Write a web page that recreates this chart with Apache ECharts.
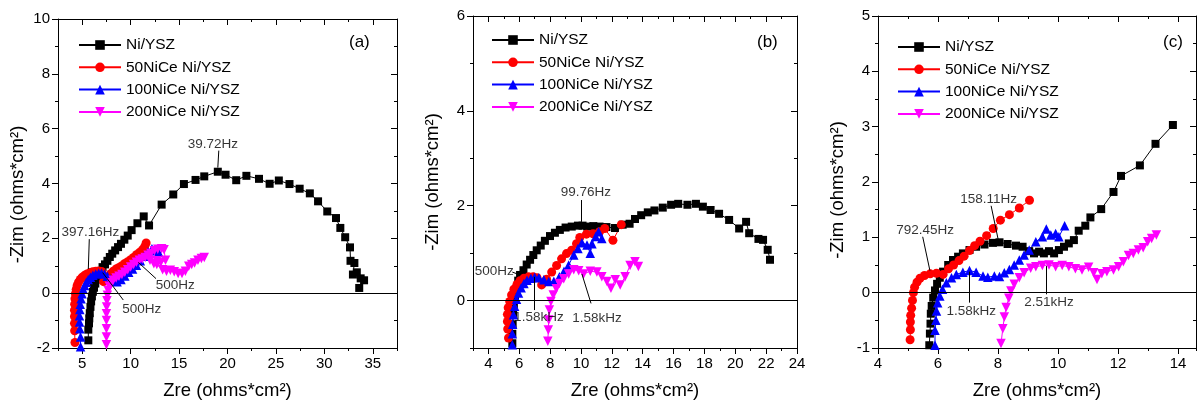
<!DOCTYPE html>
<html><head><meta charset="utf-8">
<script src="https://cdn.jsdelivr.net/npm/echarts@6/dist/echarts.min.js"></script>
<style>html,body{margin:0;padding:0;background:#fff}#c{width:1199px;height:405px}</style>
</head><body><div id="c"></div>
<script>
// ---------- DATA ----------
const seriesNames = ['Ni/YSZ', '50NiCe Ni/YSZ', '100NiCe Ni/YSZ', '200NiCe Ni/YSZ'];

// Panel (a)
const niA = [[5.63,-1.72],[5.63,-1.33],[5.7,-1.1],[5.73,-0.92],[5.78,-0.73],[5.85,-0.5],[5.92,-0.3],[6.0,-0.12],[6.1,0.05],[6.22,0.2],[6.35,0.35],[6.5,0.5],[6.7,0.65],[6.9,0.8],[7.1,0.95],[7.35,1.05],[7.6,1.18],[7.85,1.32],[8.1,1.44],[8.4,1.56],[8.7,1.68],[9.0,1.8],[9.35,1.95],[9.7,2.1],[10.1,2.3],[10.7,2.55],[11.35,2.8],[11.9,2.47],[13.2,3.23],[14.4,3.6],[15.5,3.98],[16.7,4.13],[17.6,4.26],[19.0,4.43],[19.8,4.32],[20.9,4.12],[21.95,4.28],[23.25,4.17],[24.35,3.99],[25.3,4.11],[26.4,3.98],[27.45,3.81],[28.5,3.64],[29.35,3.35],[30.3,2.98],[31.2,2.74],[31.65,2.38],[32.15,2.04],[32.65,1.67],[32.7,1.18],[33.1,1.1],[32.95,0.68],[33.35,0.76],[33.75,0.54],[34.1,0.47],[33.6,0.19]];
const ce50A = [[4.25,-1.8],[4.22,-1.37],[4.2,-1.1],[4.2,-0.85],[4.2,-0.62],[4.22,-0.4],[4.25,-0.2],[4.3,-0.02],[4.38,0.14],[4.48,0.28],[4.62,0.4],[4.8,0.5],[5.0,0.58],[5.25,0.65],[5.5,0.7],[5.8,0.75],[6.1,0.78],[6.4,0.8],[6.7,0.81],[7.0,0.79],[7.2,0.42],[7.5,0.55],[7.9,0.7],[8.2,0.8],[8.5,0.88],[8.8,0.94],[9.1,1.0],[9.4,1.08],[9.7,1.15],[10.0,1.22],[10.3,1.3],[10.6,1.4],[10.9,1.48],[11.2,1.58],[11.45,1.7],[11.6,1.83]];
const ce100A = [[4.83,-1.95],[4.83,-1.6],[4.75,-1.3],[4.72,-1.05],[4.72,-0.82],[4.75,-0.6],[4.8,-0.4],[4.88,-0.2],[4.98,-0.02],[5.1,0.14],[5.25,0.28],[5.42,0.4],[5.62,0.5],[5.85,0.58],[6.1,0.65],[6.4,0.7],[6.7,0.73],[7.0,0.74],[7.3,0.7],[7.6,0.62],[7.9,0.52],[8.2,0.45],[8.6,0.42],[9.0,0.5],[9.4,0.63],[9.8,0.76],[10.2,0.88],[10.6,1.02],[11.0,1.18],[11.4,1.35],[11.8,1.5],[12.2,1.62],[12.5,1.55],[12.9,1.48]];
const ce200A = [[7.5,-1.88],[7.5,-1.6],[7.5,-1.3],[7.5,-1.0],[7.5,-0.75],[7.52,-0.5],[7.55,-0.28],[7.6,-0.08],[7.68,0.1],[7.8,0.25],[7.98,0.38],[8.2,0.47],[8.5,0.55],[8.8,0.62],[9.1,0.68],[9.4,0.76],[9.7,0.85],[10.0,0.95],[10.3,1.05],[10.6,1.13],[10.9,1.2],[11.2,1.25],[11.5,1.3],[11.8,1.38],[12.1,1.45],[12.45,1.55],[12.8,1.6],[13.2,1.62],[13.45,1.58],[13.6,1.2],[13.1,1.12],[12.7,1.18],[12.4,1.07],[12.0,1.2],[12.7,1.05],[13.3,0.85],[13.7,0.8],[14.1,0.84],[14.5,0.78],[14.9,0.72],[15.3,0.72],[15.65,0.8],[16.0,0.98],[16.3,1.05],[16.6,1.1],[16.95,1.2],[17.3,1.26],[17.6,1.3]];

// Panel (b)
const niB = [[5.55,-0.9],[5.55,-0.7],[5.57,-0.5],[5.6,-0.3],[5.65,-0.12],[5.72,0.08],[5.82,0.25],[5.93,0.42],[6.05,0.54],[6.27,0.64],[6.48,0.76],[6.7,0.86],[6.91,0.96],[7.13,1.06],[7.39,1.16],[7.66,1.26],[7.99,1.36],[8.31,1.43],[8.63,1.49],[9.0,1.54],[9.4,1.56],[9.8,1.58],[10.1,1.58],[10.4,1.56],[10.8,1.57],[11.2,1.56],[11.65,1.55],[12.2,1.53],[12.7,1.6],[13.15,1.62],[13.5,1.72],[13.9,1.8],[14.33,1.86],[14.76,1.9],[15.3,1.96],[15.84,2.02],[16.3,2.04],[16.9,2.02],[17.45,2.04],[17.9,1.98],[18.4,1.91],[18.95,1.83],[19.6,1.7],[20.25,1.52],[20.7,1.66],[20.9,1.42],[21.5,1.3],[21.8,1.28],[22.1,1.07],[22.25,0.86]];
const ce50B = [[5.3,-0.79],[5.25,-0.6],[5.23,-0.44],[5.23,-0.29],[5.28,-0.15],[5.38,-0.02],[5.5,0.12],[5.65,0.24],[5.85,0.34],[6.05,0.42],[6.3,0.47],[6.6,0.5],[6.9,0.5],[7.15,0.48],[7.45,0.33],[7.77,0.45],[8.1,0.6],[8.42,0.74],[8.74,0.88],[9.06,0.99],[9.39,1.06],[9.71,1.2],[9.92,1.33],[10.35,1.4],[10.78,1.41],[11.2,1.45],[11.54,1.52],[12.07,1.27],[12.61,1.6]];
const ce100B = [[5.55,-0.93],[5.55,-0.7],[5.57,-0.5],[5.62,-0.3],[5.7,-0.12],[5.82,0.03],[5.95,0.16],[6.12,0.27],[6.3,0.36],[6.5,0.43],[6.75,0.47],[7.0,0.49],[7.27,0.48],[7.59,0.44],[7.91,0.4],[8.24,0.41],[8.6,0.5],[8.9,0.62],[9.2,0.75],[9.53,0.96],[9.8,1.1],[10.06,1.22],[10.39,1.17],[10.6,1.0],[10.71,1.2],[10.95,1.35],[11.14,1.45],[11.35,1.31]];
const ce200B = [[7.85,-0.86],[7.88,-0.62],[7.91,-0.41],[7.95,-0.2],[8.05,-0.02],[8.2,0.12],[8.4,0.25],[8.6,0.36],[8.88,0.46],[9.2,0.56],[9.53,0.65],[9.85,0.63],[10.17,0.56],[10.6,0.62],[11.03,0.6],[11.35,0.5],[11.68,0.4],[11.94,0.26],[12.22,0.44],[12.54,0.33],[12.86,0.5],[13.18,0.74],[13.5,0.82],[13.72,0.72]];

// Panel (c)
const niC = [[5.71,-0.95],[5.73,-0.74],[5.75,-0.56],[5.76,-0.38],[5.79,-0.24],[5.84,-0.09],[5.9,0.04],[5.97,0.16],[6.06,0.27],[6.17,0.38],[6.34,0.5],[6.5,0.59],[6.67,0.65],[6.83,0.71],[7.05,0.77],[7.27,0.83],[7.55,0.87],[7.83,0.9],[8.05,0.91],[8.32,0.88],[8.6,0.85],[8.82,0.83],[9.04,0.75],[9.2,0.71],[9.37,0.74],[9.53,0.71],[9.7,0.75],[9.87,0.71],[10.03,0.77],[10.2,0.83],[10.36,0.89],[10.53,0.95],[10.69,1.12],[10.91,1.21],[11.08,1.36],[11.44,1.51],[11.85,1.82],[12.1,2.11],[12.73,2.3],[13.25,2.69],[13.83,3.03]];
const ce50C = [[5.07,-0.85],[5.08,-0.67],[5.08,-0.53],[5.09,-0.41],[5.12,-0.28],[5.15,-0.14],[5.18,0.0],[5.22,0.1],[5.3,0.19],[5.4,0.26],[5.55,0.31],[5.74,0.34],[5.95,0.35],[6.17,0.33],[6.35,0.43],[6.52,0.5],[6.7,0.58],[6.87,0.66],[7.05,0.76],[7.22,0.85],[7.4,0.93],[7.62,1.03],[7.84,1.16],[8.08,1.31],[8.38,1.41],[8.71,1.53],[9.05,1.67]];
const ce100C = [[5.9,-0.95],[5.9,-0.68],[5.93,-0.5],[5.95,-0.33],[5.99,-0.18],[6.06,-0.06],[6.15,0.06],[6.28,0.18],[6.45,0.27],[6.61,0.33],[6.83,0.37],[7.05,0.4],[7.27,0.37],[7.5,0.3],[7.66,0.28],[7.88,0.3],[8.05,0.29],[8.21,0.36],[8.38,0.42],[8.54,0.5],[8.71,0.59],[8.87,0.68],[9.04,0.77],[9.26,0.92],[9.48,1.01],[9.61,1.15],[9.76,1.04],[9.92,1.07],[10.03,1.01],[10.22,1.21]];
const ce200C = [[8.1,-0.92],[8.16,-0.65],[8.21,-0.44],[8.27,-0.27],[8.36,-0.1],[8.43,0.03],[8.54,0.15],[8.71,0.27],[8.87,0.36],[9.09,0.44],[9.26,0.47],[9.48,0.49],[9.7,0.5],[9.92,0.47],[10.14,0.49],[10.36,0.47],[10.58,0.43],[10.8,0.41],[11.02,0.46],[11.19,0.36],[11.3,0.24],[11.46,0.34],[11.63,0.38],[11.85,0.41],[12.02,0.47],[12.18,0.56],[12.35,0.67],[12.51,0.71],[12.68,0.77],[12.84,0.81],[12.99,0.92],[13.12,0.98],[13.28,1.04]];

// Tick labels
const xMajorA = [5,10,15,20,25,30,35];
const yMajorA = [-2,0,2,4,6,8,10];
const xMajorB = [4,6,8,10,12,14,16,18,20,22,24];
const yMajorB = [0,2,4,6];
const xMajorC = [4,6,8,10,12,14];
const yMajorC = [-1,0,1,2,3,4,5];

// Frequency annotations (data coordinates)
const annA = [
  {text:'39.72Hz', at:[18.5,5.43], from:[19.1,5.2], to:[19.0,4.58]},
  {text:'397.16Hz', at:[5.85,2.22], from:[5.73,1.97], to:[5.63,0.88]},
  {text:'500Hz', at:[14.6,0.3], from:[12.62,0.53], to:[10.8,1.12]},
  {text:'500Hz', at:[11.14,-0.58], from:[9.24,-0.25], to:[7.11,0.75]}
];
const annB = [
  {text:'99.76Hz', at:[10.32,2.28], from:[10.02,2.12], to:[10.02,1.66]},
  {text:'500Hz', at:[4.37,0.62], from:[5.55,0.6], to:[6.05,0.54]},
  {text:'1.58kHz', at:[7.27,-0.36], from:[6.95,-0.2], to:[6.95,0.5]},
  {text:'1.58kHz', at:[11.03,-0.37], from:[10.65,-0.06], to:[10.06,0.56]}
];
const annC = [
  {text:'158.11Hz', at:[7.69,1.69], from:[7.77,1.57], to:[8.01,0.95]},
  {text:'792.45Hz', at:[5.57,1.12], from:[5.49,1.01], to:[5.73,0.4]},
  {text:'1.58kHz', at:[7.11,-0.33], from:[7.03,-0.18], to:[7.03,0.38]},
  {text:'2.51kHz', at:[9.7,-0.18], from:[9.61,-0.03], to:[9.61,0.48]}
];

// ---------- STYLE / LAYOUT ----------
const FONT = 'Liberation Sans, Arial, sans-serif';
const colors = ['#000000', '#ff0000', '#0000ff', '#ff00ff'];
const symbols = ['rect', 'circle', 'triangle', 'path://M0,0L10,0L5,8.66Z'];
const symbolSizes = [8, 9, 9.5, 9.5];

const panels = [
  {grid:{left:58, top:19, width:339, height:333},
   x:{min:2.5, max:37.5, minor:2.5, major:xMajorA}, y:{min:-2, max:10, minor:1, major:yMajorA},
   data:[niA, ce50A, ce100A, ce200A], ann:annA, legend:{left:73, top:32}, tag:{text:'(a)', left:349, top:34}, yPad:22},
  {grid:{left:473, top:16, width:324, height:334},
   x:{min:3, max:24, minor:1, major:xMajorB}, y:{min:-1, max:6, minor:1, major:yMajorB},
   data:[niB, ce50B, ce100B, ce200B], ann:annB, legend:{left:486, top:27}, tag:{text:'(b)', left:757, top:34}, yPad:0},
  {grid:{left:878, top:16, width:320, height:338},
   x:{min:4, max:14.6, minor:1, major:xMajorC}, y:{min:-1, max:5, minor:0.5, major:yMajorC},
   data:[niC, ce50C, ce100C, ce200C], ann:annC, legend:{left:892, top:34}, tag:{text:'(c)', left:1163, top:34}, yPad:16}
];

const isMajor = (v, majors) => majors.some(m => Math.abs(m - v) < 1e-6);
const lineStyle = {color:'#000', width:1};

const grids = [], xAxes = [], yAxes = [], series = [], legends = [], graphics = [];

panels.forEach((p, i) => {
  grids.push(Object.assign({containLabel:false}, p.grid));
  const mk = (r, pos, primary, inside) => {
    const ax = {
      type:'value', gridIndex:i, position:pos, min:r.min, max:r.max, interval:r.minor,
      splitLine:{show:false},
      axisLine:{show:primary, onZero:false, lineStyle:lineStyle},
      axisTick:{show:true, inside:inside, length:3, lineStyle:lineStyle},
      axisLabel:{show:false}
    };
    if (!primary) {
      ax.axisTick = {show:true, inside:inside, length:6, lineStyle:lineStyle, customValues:r.major};
    }
    return ax;
  };
  const xb = mk(p.x, 'bottom', true, false);
  xb.axisLabel = {show:true, margin:8, color:'#000', fontSize:15, fontFamily:FONT,
    formatter: v => isMajor(v, p.x.major) ? String(Math.round(v)) : ''};
  xb.name = 'Zre (ohms*cm²)';
  xb.nameLocation = 'middle';
  xb.nameGap = 33;
  xb.nameTextStyle = {fontSize:18.5, color:'#000', fontFamily:FONT};
  xAxes.push(xb, mk(p.x, 'bottom', false, false), mk(p.x, 'top', true, true), mk(p.x, 'top', false, true));

  const yl = mk(p.y, 'left', true, false);
  yl.axisLabel = {show:true, margin:8, color:'#000', fontSize:15, fontFamily:FONT,
    formatter: v => isMajor(v, p.y.major) ? String(Math.round(v)) : ''};
  yl.name = '-Zim (ohms*cm²)';
  yl.nameLocation = 'middle';
  yl.nameGap = 31;
  yl.nameTextStyle = {fontSize:18.5, color:'#000', fontFamily:FONT, padding:[0, p.yPad, 0, 0]};
  yAxes.push(yl, mk(p.y, 'left', false, false), mk(p.y, 'right', true, true), mk(p.y, 'right', false, true));

  const xi = 4 * i, yi = 4 * i;
  p.data.forEach((d, s) => {
    const ser = {
      type:'line', name:seriesNames[s], xAxisIndex:xi, yAxisIndex:yi, data:d,
      symbol:symbols[s], symbolSize:symbolSizes[s], showAllSymbol:true,
      itemStyle:{color:colors[s]}, lineStyle:{color:colors[s], width:1},
      animation:false
    };
    if (s === 0) {
      ser.markLine = {silent:true, symbol:'none', animation:false, label:{show:false},
        lineStyle:{color:'#000', width:1, type:'solid'}, data:[{yAxis:0}]};
    }
    series.push(ser);
  });
  series.push({
    type:'scatter', name:'ann' + i, xAxisIndex:xi, yAxisIndex:yi, symbolSize:0, z:10,
    data:p.ann.map(a => ({name:a.text, value:a.at})),
    label:{show:true, position:'inside', formatter:'{b}', color:'#000', fontSize:13.5, fontFamily:FONT},
    markLine:{silent:true, animation:false, symbol:['none','arrow'], symbolSize:[0,7], label:{show:false},
      lineStyle:{color:'#000', width:1, type:'solid'},
      data:p.ann.map(a => [{coord:a.from}, {coord:a.to}])},
    animation:false
  });
  legends.push({
    data:seriesNames, orient:'vertical', left:p.legend.left, top:p.legend.top,
    itemWidth:42, itemHeight:12, itemGap:6.3, selectedMode:false,
    textStyle:{fontSize:15.5, lineHeight:16, color:'#000', fontFamily:FONT}
  });
  graphics.push({type:'text', left:p.tag.left, top:p.tag.top,
    style:{text:p.tag.text, font:'17px ' + FONT, fill:'#000'}});
});

const chart = echarts.init(document.getElementById('c'), null, {renderer:'canvas'});
chart.setOption({
  animation:false,
  backgroundColor:'#fff',
  grid:grids, xAxis:xAxes, yAxis:yAxes, series:series, legend:legends, graphic:graphics
});
</script></body></html>
